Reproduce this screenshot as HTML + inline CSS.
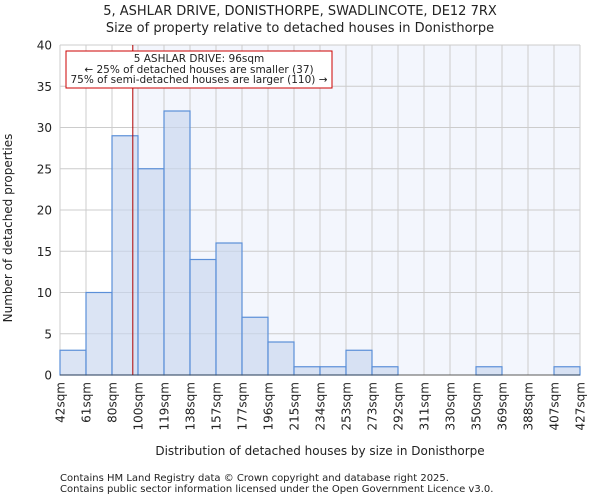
<!DOCTYPE html>
<html><head><meta charset="utf-8"><style>
body{margin:0;background:#fff;font-family:"DejaVu Sans","Liberation Sans",sans-serif}
svg text{font-family:"DejaVu Sans","Liberation Sans",sans-serif;fill:#222}
</style></head><body>
<svg id="chart" width="600" height="500" viewBox="0 0 600 500" xmlns="http://www.w3.org/2000/svg">
<text x="300" y="15" font-size="13" text-anchor="middle">5, ASHLAR DRIVE, DONISTHORPE, SWADLINCOTE, DE12 7RX</text>
<text x="300" y="32" font-size="13" text-anchor="middle">Size of property relative to detached houses in Donisthorpe</text>
<rect id="hl" x="0" y="45" width="0" height="330" fill="#f3f6fd"/>
<g id="grid"></g>
<g id="bars"></g>
<line id="marker" x1="0" x2="0" y1="45" y2="375" stroke="#b00000" stroke-width="1"/>
<line x1="60" x2="580" y1="375" y2="375" stroke="#333" stroke-width="0.8"/>
<g id="yticks"></g><g id="xticks"></g>
<g>
<rect x="66" y="51" width="266" height="37" fill="#fff" stroke="#cc0000" stroke-width="1"/>
<text x="199" y="62" font-size="10.5" text-anchor="middle">5 ASHLAR DRIVE: 96sqm</text>
<text x="199" y="73" font-size="10.5" text-anchor="middle">← 25% of detached houses are smaller (37)</text>
<text x="199" y="83" font-size="10.5" text-anchor="middle">75% of semi-detached houses are larger (110) →</text>
</g>
<text transform="translate(12,228) rotate(-90)" font-size="12" text-anchor="middle">Number of detached properties</text>
<text x="320" y="455" font-size="12" text-anchor="middle">Distribution of detached houses by size in Donisthorpe</text>
<text x="60" y="481" font-size="10" fill="#444">Contains HM Land Registry data © Crown copyright and database right 2025.</text>
<text x="60" y="492" font-size="10" fill="#444">Contains public sector information licensed under the Open Government Licence v3.0.</text>
</svg>
<script>
const binLabels=["42sqm","61sqm","80sqm","100sqm","119sqm","138sqm","157sqm","177sqm","196sqm","215sqm","234sqm","253sqm","273sqm","292sqm","311sqm","330sqm","350sqm","369sqm","388sqm","407sqm","427sqm"];
const counts=[3,10,29,25,32,14,16,7,4,1,1,3,1,0,0,0,1,0,0,1];
const yTicks=[0,5,10,15,20,25,30,35,40];
const markerBin=2.8;
const NS="http://www.w3.org/2000/svg";
const X0=60,X1=580,Y0=375,Y1=45,YMAX=40;
const nb=counts.length,bw=(X1-X0)/nb;
const xs=i=>X0+i*bw;
const ys=v=>Y0-(v/YMAX)*(Y0-Y1);
function mk(tag,attrs,parent){const e=document.createElementNS(NS,tag);for(const k in attrs)e.setAttribute(k,attrs[k]);parent.appendChild(e);return e;}
const mx=xs(markerBin);
const hl=document.getElementById('hl');hl.setAttribute('x',mx);hl.setAttribute('width',X1-mx);
const m=document.getElementById('marker');m.setAttribute('x1',mx);m.setAttribute('x2',mx);
const grid=document.getElementById('grid'),bars=document.getElementById('bars'),yt=document.getElementById('yticks'),xt=document.getElementById('xticks');
yTicks.forEach(v=>{
 const l=mk('line',{x1:X0,x2:X1,y1:ys(v),y2:ys(v),stroke:'#cccccc','stroke-width':1},grid);
 
 
 const t=mk('text',{x:X0-8,y:ys(v)+4.5,'font-size':12,'text-anchor':'end'},yt);
 t.textContent=v;
 
 
});
binLabels.forEach((lab,i)=>{
 const l=mk('line',{x1:xs(i),x2:xs(i),y1:Y1,y2:Y0,stroke:'#cccccc','stroke-width':1},grid);
 
 
 const t=mk('text',{transform:`translate(${xs(i)+4.5},382) rotate(-90)`,'font-size':12,'text-anchor':'end'},xt);
 t.textContent=lab;
 
 
});
counts.forEach((c,i)=>{
 if(c<=0)return;
 const r=mk('rect',{x:xs(i),y:ys(c),width:bw,height:Y0-ys(c),fill:'rgba(200,214,238,0.65)',stroke:'#5b8fd8','stroke-width':1.2},bars);
 
 
});
</script>
</body></html>
